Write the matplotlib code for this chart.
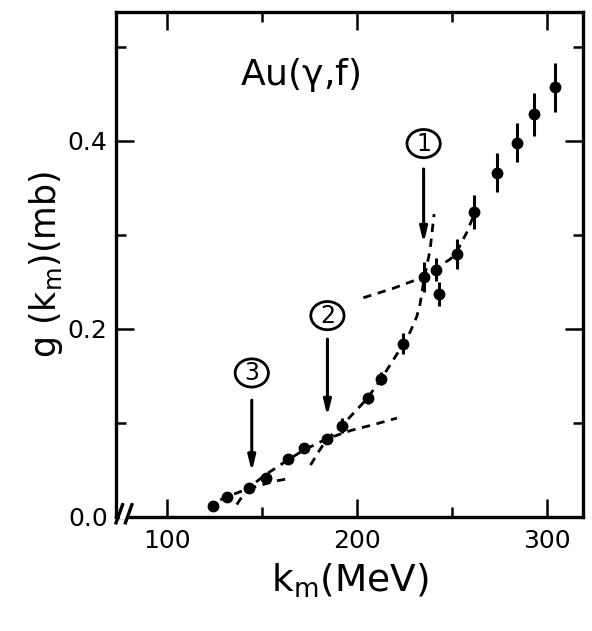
import matplotlib
matplotlib.use('Agg')
import matplotlib.pyplot as plt
from matplotlib.patches import Ellipse


# ── data ──────────────────────────────────────────────────────────────────────

k_m = [124.0, 131.4, 143.0, 152.0, 163.5, 172.1, 184.0, 192.0, 205.8, 212.5,
       224.4, 235.3, 241.4, 243.2, 252.5, 261.6, 273.5, 284.1, 293.3, 304.2]
sigma = [0.011, 0.021, 0.031, 0.041, 0.061, 0.073, 0.083, 0.097, 0.126, 0.147,
         0.184, 0.255, 0.263, 0.237, 0.280, 0.324, 0.366, 0.398, 0.428, 0.457]
sigma_err = [0.003, 0.003, 0.003, 0.003, 0.004, 0.004, 0.005, 0.008, 0.006, 0.007,
             0.011, 0.016, 0.012, 0.013, 0.016, 0.018, 0.021, 0.021, 0.023, 0.026]

# dashed guide curves
c1_x = [128.0, 135.0, 143.0, 150.0, 157.0, 165.0]
c1_y = [0.018, 0.024, 0.030, 0.034, 0.038, 0.041]
c2_x = [136.7, 140.0, 143.0, 152.0, 164.0, 172.0, 184.0, 197.0, 208.6, 221.0]
c2_y = [0.013, 0.023, 0.031, 0.045, 0.061, 0.071, 0.083, 0.092, 0.098, 0.105]
c3_x = [175.5, 180.0, 184.0, 192.0, 205.0, 212.5, 224.4, 228.0, 231.4, 233.2,
        235.3, 237.0, 238.4, 239.3, 240.5]
c3_y = [0.055, 0.070, 0.082, 0.097, 0.125, 0.146, 0.184, 0.197, 0.213, 0.227,
        0.254, 0.270, 0.284, 0.300, 0.322]
c4_x = [203.3, 219.0, 229.6, 235.3, 241.0, 249.0, 252.5, 257.8, 261.6]
c4_y = [0.233, 0.243, 0.251, 0.256, 0.264, 0.274, 0.282, 0.303, 0.322]

# arrows: label, x, tail, tip, label height
marks = [
    ('1', 235.0, 0.370, 0.291, 0.397),
    ('2', 184.4, 0.189, 0.107, 0.214),
    ('3', 144.6, 0.124, 0.048, 0.153),
]

x_ticks = [100, 200, 300]
x_minor = [150, 250]
y_ticks = [0.0, 0.2, 0.4]
y_minor = [0.1, 0.3, 0.5]


# ── figure ────────────────────────────────────────────────────────────────────

plt.rcParams.update({
    'font.family': 'DejaVu Sans',
    'mathtext.default': 'regular',
})

fig = plt.figure(figsize=(5.92, 6.31), dpi=100)
ax = fig.add_axes([0.196, 0.181, 0.789, 0.800])

ax.errorbar(k_m, sigma, yerr=sigma_err, fmt='o', color='black', ms=7.5,
            elinewidth=2.2, capsize=0, zorder=3)

dash_kw = dict(color='black', lw=2.0, dashes=(3.0, 2.4), zorder=2)
ax.plot(c1_x, c1_y, **dash_kw)
ax.plot(c2_x, c2_y, **dash_kw)
ax.plot(c3_x, c3_y, **dash_kw)
ax.plot(c4_x, c4_y, **dash_kw)

for lab, x, tail, tip, ylab in marks:
    ax.annotate('', xy=(x, tip), xytext=(x, tail),
                arrowprops=dict(arrowstyle='-|>,head_length=0.9,head_width=0.22',
                                lw=2.2, color='black', shrinkA=0, shrinkB=0))
    ax.add_patch(Ellipse((x, ylab), 17.5, 0.030, fc='white', ec='black', lw=2.0))
    ax.text(x, ylab, lab, ha='center', va='center', fontsize=17)

ax.text(0.394, 0.875, r'Au($\gamma$,f)', transform=ax.transAxes,
        ha='center', va='center', fontsize=26)

ax.set_xlim(73.2, 318.9)
ax.set_ylim(0.0, 0.537)
ax.set_xticks(x_ticks)
ax.set_xticks(x_minor, minor=True)
ax.set_yticks(y_ticks)
ax.set_yticks(y_minor, minor=True)
ax.set_yticklabels([f'{v:.1f}' for v in y_ticks])

ax.tick_params(which='both', direction='in', top=True, right=True,
               width=1.8, labelsize=18)
ax.tick_params(which='major', length=13, pad=9)
ax.tick_params(axis='y', which='major', pad=6)
ax.tick_params(which='minor', length=7)
for sp in ax.spines.values():
    sp.set_linewidth(2.4)

ax.set_xlabel(r'k$_\mathrm{m}$(MeV)', fontsize=27, labelpad=6)
ax.set_ylabel(r'g (k$_\mathrm{m}$)(mb)', fontsize=25, labelpad=2)

# axis break on the x axis near the origin
brk_kw = dict(transform=ax.transAxes, color='black', lw=2.4, clip_on=False, zorder=5)
ax.plot([0.000, 0.014], [-0.012, 0.024], **brk_kw)
ax.plot([0.020, 0.034], [-0.012, 0.024], **brk_kw)
ax.plot([0.013, 0.021], [0.0, 0.0], transform=ax.transAxes, color='white',
        lw=3.0, clip_on=False, zorder=4)

fig.savefig('out.png', dpi=100, facecolor='white')
